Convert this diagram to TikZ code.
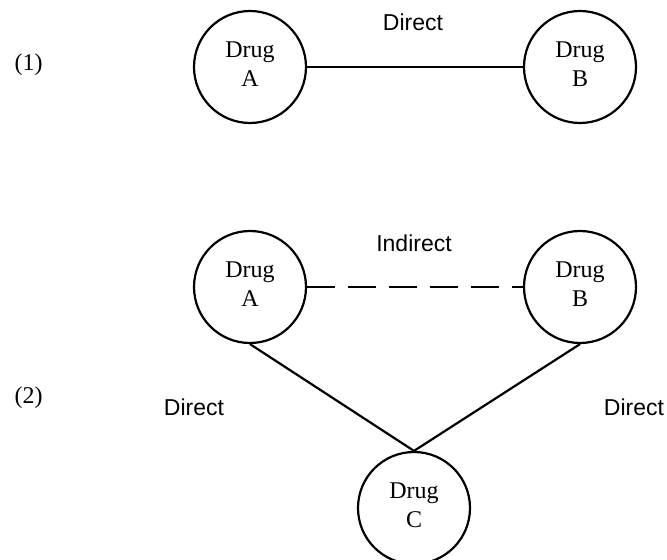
\documentclass[tikz,border=0pt]{standalone}
\usepackage{fontspec}
\setmainfont{Liberation Serif}
\newfontfamily\labelsans{Liberation Sans}
\usetikzlibrary{positioning}

\begin{document}
\begin{tikzpicture}[x=1bp,y=-1bp,
  drug/.style={circle,draw,line width=2.2bp,minimum size=112bp,inner sep=0pt,align=center,text depth=6bp,font=\fontsize{24bp}{29bp}\selectfont},
  link/.style={line width=2.2bp},
  linklabel/.style={font=\labelsans\fontsize{23bp}{27bp}\selectfont},
  casenum/.style={font=\fontsize{24bp}{29bp}\selectfont}]
\useasboundingbox (0,0) rectangle (667,560);
% (1) direct comparison, (2) indirect via common comparator
\foreach \x/\y/\n/\l in {250/67/a1/A,580/67/b1/B,250/287/a2/A,580/287/b2/B,414/508/c2/C}{
  \node[drug] (\n) at (\x,\y) {Drug\\\l};}
\draw[link] (a1)--(b1);
\draw[link,dash pattern=on 28bp off 13bp] (a2)--(b2);
\draw[link] (a2.south)--(c2.north);
\draw[link] (b2.south)--(c2.north);
\node[linklabel] (d1) at (413,22) {Direct};
\node[linklabel] (ind) at (414,243) {Indirect};
\node[linklabel] (dl) at (194,407) {Direct};
\node[linklabel] (dr) at (634,407) {Direct};
\node[casenum] (case1) at (28.5,65) {(1)};
\node[casenum] (case2) at (28.5,398) {(2)};
\end{tikzpicture}
\end{document}
